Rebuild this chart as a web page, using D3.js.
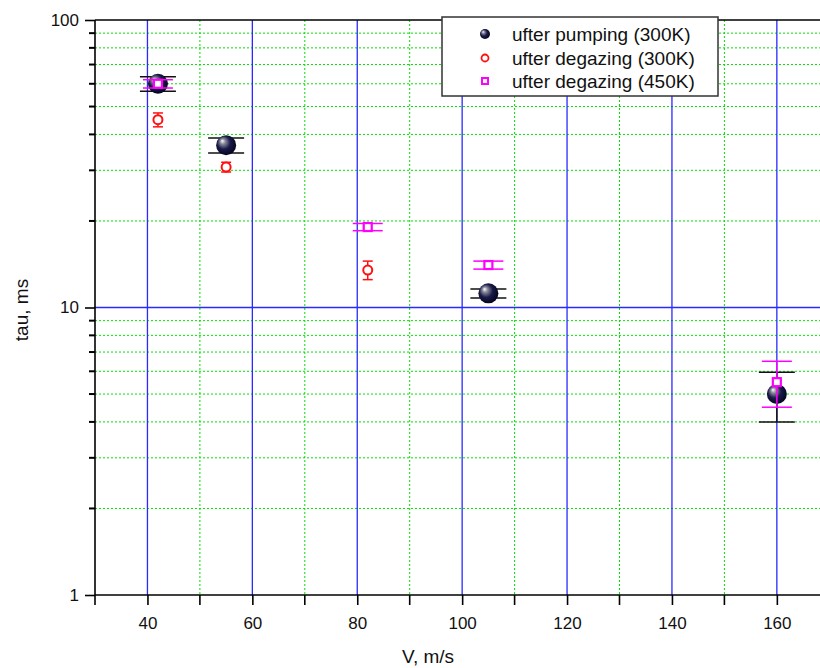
<!DOCTYPE html>
<html>
<head>
<meta charset="utf-8">
<script src="https://cdn.jsdelivr.net/npm/d3@7"></script>
<style>
  body { margin: 0; background: #fff; }
  svg { display: block; font-family: "Liberation Sans", Arial, sans-serif; }
</style>
</head>
<body>
<svg id="chart" width="820" height="668"></svg>
<script>
// Relaxation time vs. velocity for three sample conditions
const seriesNames = ["ufter pumping (300K)", "ufter degazing (300K)", "ufter degazing (450K)"];

const pumpV   = [42, 55, 105, 160];
const pumpTau = [60, 36.7, 11.2, 5.0];
const pumpLo  = [56.5, 34.5, 10.8, 4.0];
const pumpHi  = [63.5, 38.9, 11.6, 5.95];

const deg300V   = [42, 55, 82];
const deg300Tau = [45, 30.8, 13.5];
const deg300Lo  = [42.5, 29.6, 12.5];
const deg300Hi  = [47.5, 32.0, 14.5];

const deg450V   = [42, 82, 105, 160];
const deg450Tau = [60, 19.05, 14.05, 5.5];
const deg450Lo  = [58, 18.5, 13.6, 4.5];
const deg450Hi  = [62, 19.6, 14.5, 6.5];

const xTickLabels = [40, 60, 80, 100, 120, 140, 160];
const xMinorTicks = [30, 50, 70, 90, 110, 130, 150];
const yTickLabels = [1, 10, 100];

const svg = d3.select("#chart");
const plotLeft = 95, plotTop = 20, plotBottom = 595, plotRight = 820;

const x = d3.scaleLinear().domain([30, 170]).range([plotLeft, plotLeft + 140 * 5.245]);
const y = d3.scaleLog().domain([1, 100]).range([plotBottom, plotTop]);

const yMinor = [];
[1, 10].forEach(d => { for (let k = 2; k <= 9; k++) yMinor.push(d * k); });

// grid: minor dotted green, major solid blue
const grid = svg.append("g");
grid.selectAll(".xminor").data(xMinorTicks.filter(d => d > 30)).join("line")
  .attr("x1", d => x(d)).attr("x2", d => x(d)).attr("y1", plotTop).attr("y2", plotBottom)
  .attr("stroke", "#00e000").attr("stroke-width", 1).attr("stroke-dasharray", "2,2");
grid.selectAll(".yminor").data(yMinor).join("line")
  .attr("x1", plotLeft).attr("x2", plotRight).attr("y1", d => y(d)).attr("y2", d => y(d))
  .attr("stroke", "#00e000").attr("stroke-width", 1).attr("stroke-dasharray", "2,2");
grid.selectAll(".xmajor").data(xTickLabels).join("line")
  .attr("x1", d => x(d)).attr("x2", d => x(d)).attr("y1", plotTop).attr("y2", plotBottom)
  .attr("stroke", "#2a2aff").attr("stroke-width", 1.3);
grid.append("line")
  .attr("x1", plotLeft).attr("x2", plotRight).attr("y1", y(10)).attr("y2", y(10))
  .attr("stroke", "#2a2aff").attr("stroke-width", 1.3);

// axes
const xAxis = d3.axisBottom(x).tickValues(xTickLabels).tickSize(10).tickPadding(12)
  .tickFormat(d3.format("d"));
const gx = svg.append("g").attr("transform", `translate(0,${plotBottom})`).call(xAxis);
gx.select(".domain").attr("d", `M${plotLeft},0H${plotRight}`).attr("stroke-width", 1.6);
gx.selectAll(".tick line").attr("stroke-width", 1.6);
gx.selectAll(".tick text").attr("font-size", 17).attr("fill", "#111");
gx.selectAll(".minor").data(xMinorTicks).join("line")
  .attr("x1", d => x(d)).attr("x2", d => x(d)).attr("y1", 0).attr("y2", 10)
  .attr("stroke", "#000").attr("stroke-width", 1.6);

const yAxis = d3.axisLeft(y).tickValues(yTickLabels).tickSize(10).tickPadding(6)
  .tickFormat(d3.format("d"));
const gy = svg.append("g").attr("transform", `translate(${plotLeft},0)`).call(yAxis);
gy.select(".domain").attr("d", `M0,${plotTop}V${plotBottom}`).attr("stroke-width", 1.6);
gy.selectAll(".tick line").attr("stroke-width", 1.6);
gy.selectAll(".tick text").attr("font-size", 17).attr("fill", "#111");
gy.selectAll(".minor").data(yMinor).join("line")
  .attr("x1", -6).attr("x2", 0).attr("y1", d => y(d)).attr("y2", d => y(d))
  .attr("stroke", "#000").attr("stroke-width", 2);

// top frame
svg.append("line").attr("x1", plotLeft).attr("x2", plotRight).attr("y1", plotTop).attr("y2", plotTop)
  .attr("stroke", "#000").attr("stroke-width", 1.6);

// axis titles
svg.append("text").attr("x", 428).attr("y", 663).attr("text-anchor", "middle")
  .attr("font-size", 19).attr("fill", "#111").text("V, m/s");
svg.append("text").attr("transform", "translate(28,310) rotate(-90)").attr("text-anchor", "middle")
  .attr("font-size", 19).attr("fill", "#111").text("tau, ms");

// sphere gradient
const defs = svg.append("defs");
const rg = defs.append("radialGradient").attr("id", "ball")
  .attr("cx", "45%").attr("cy", "45%").attr("r", "60%").attr("fx", "30%").attr("fy", "28%");
rg.append("stop").attr("offset", "0%").attr("stop-color", "#ffffff");
rg.append("stop").attr("offset", "22%").attr("stop-color", "#8a8a9a");
rg.append("stop").attr("offset", "55%").attr("stop-color", "#1a1a4a");
rg.append("stop").attr("offset", "100%").attr("stop-color", "#02021a");

function errorBars(g, xs, lo, hi, color, capHalf, width) {
  const pts = xs.map((v, i) => ({ v, lo: lo[i], hi: hi[i] }));
  g.selectAll(null).data(pts).join("line")
    .attr("x1", d => x(d.v)).attr("x2", d => x(d.v))
    .attr("y1", d => y(d.lo)).attr("y2", d => y(d.hi))
    .attr("stroke", color).attr("stroke-width", width);
  ["lo", "hi"].forEach(k => {
    g.selectAll(null).data(pts).join("line")
      .attr("x1", d => x(d.v) - capHalf).attr("x2", d => x(d.v) + capHalf)
      .attr("y1", d => y(d[k])).attr("y2", d => y(d[k]))
      .attr("stroke", color).attr("stroke-width", width);
  });
}

// series 1: spheres
const g1 = svg.append("g");
errorBars(g1, pumpV, pumpLo, pumpHi, "#111", 18, 1.5);
g1.selectAll("circle").data(pumpV.map((v, i) => [v, pumpTau[i]])).join("circle")
  .attr("cx", d => x(d[0])).attr("cy", d => y(d[1])).attr("r", 10)
  .attr("fill", "url(#ball)");

// series 2: red open circles
const g2 = svg.append("g");
errorBars(g2, deg300V, deg300Lo, deg300Hi, "#ff1010", 5, 1.5);
g2.selectAll("circle").data(deg300V.map((v, i) => [v, deg300Tau[i]])).join("circle")
  .attr("cx", d => x(d[0])).attr("cy", d => y(d[1])).attr("r", 4.5)
  .attr("fill", "#fff").attr("stroke", "#ff1010").attr("stroke-width", 2);

// series 3: magenta open squares
const g3 = svg.append("g");
errorBars(g3, deg450V, deg450Lo, deg450Hi, "#ff00ff", 15, 1.5);
g3.selectAll("rect").data(deg450V.map((v, i) => [v, deg450Tau[i]])).join("rect")
  .attr("x", d => x(d[0]) - 4).attr("y", d => y(d[1]) - 4).attr("width", 8).attr("height", 8)
  .attr("fill", "#fff").attr("stroke", "#ff00ff").attr("stroke-width", 2.2);

// legend
const lg = svg.append("g");
lg.append("rect").attr("x", 442).attr("y", 17).attr("width", 276).attr("height", 79)
  .attr("fill", "#fff").attr("stroke", "#333").attr("stroke-width", 1.5);
const rowsY = [34, 58, 81];
lg.append("circle").attr("cx", 485).attr("cy", rowsY[0]).attr("r", 5).attr("fill", "url(#ball)");
lg.append("circle").attr("cx", 485).attr("cy", rowsY[1]).attr("r", 3.5)
  .attr("fill", "#fff").attr("stroke", "#ff1010").attr("stroke-width", 1.8);
lg.append("rect").attr("x", 482).attr("y", rowsY[2] - 3).attr("width", 6).attr("height", 6)
  .attr("fill", "#fff").attr("stroke", "#ff00ff").attr("stroke-width", 2);
lg.selectAll("text").data(seriesNames).join("text")
  .attr("x", 512).attr("y", (d, i) => rowsY[i] + 6.5)
  .attr("font-size", 19).attr("fill", "#111").text(d => d);
</script>
</body>
</html>
